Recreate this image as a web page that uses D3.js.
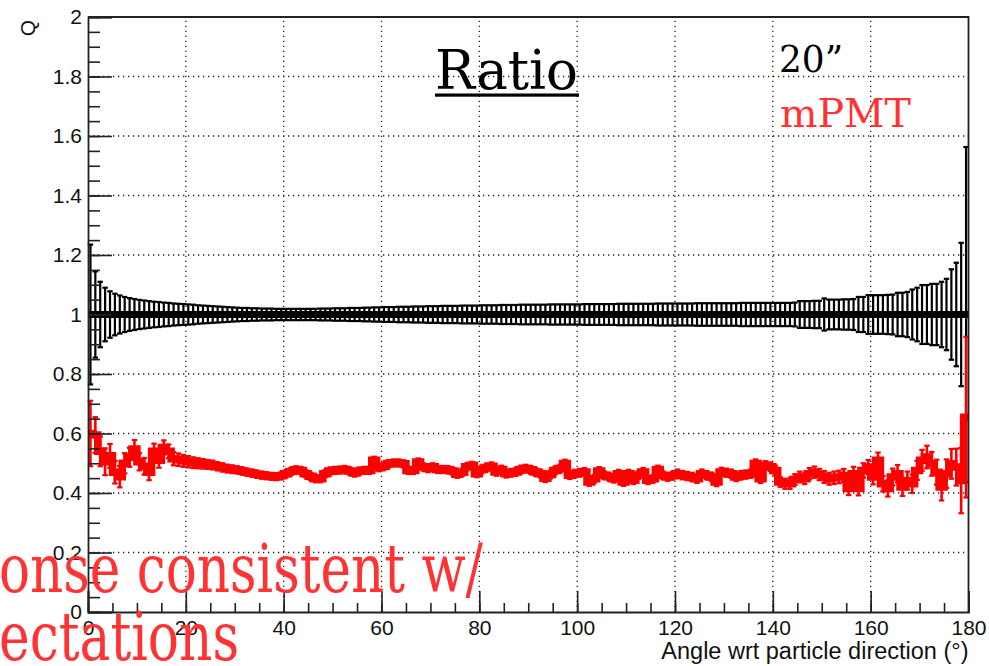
<!DOCTYPE html>
<html>
<head>
<meta charset="utf-8">
<script src="https://cdn.jsdelivr.net/npm/d3@7"></script>
<style>
  html, body { margin: 0; padding: 0; background: #fff; }
  svg { display: block; }
</style>
</head>
<body>
<svg id="chart" width="989" height="666"></svg>
<script>
// Angle bins: 1 degree wide, 0..180
const binEdges = d3.range(0, 181, 1);

// 20" PMT ratio (normalised to itself) and its statistical error per bin
const ratio20 = [
  1,1,1,1,1,1,1,1,1,1, 1,1,1,1,1,1,1,1,1,1, 1,1,1,1,1,1,1,1,1,1,
  1,1,1,1,1,1,1,1,1,1, 1,1,1,1,1,1,1,1,1,1, 1,1,1,1,1,1,1,1,1,1,
  1,1,1,1,1,1,1,1,1,1, 1,1,1,1,1,1,1,1,1,1, 1,1,1,1,1,1,1,1,1,1,
  1,1,1,1,1,1,1,1,1,1, 1,1,1,1,1,1,1,1,1,1, 1,1,1,1,1,1,1,1,1,1,
  1,1,1,1,1,1,1,1,1,1, 1,1,1,1,1,1,1,1,1,1, 1,1,1,1,1,1,1,1,1,1,
  1,1,1,1,1,1,1,1,1,1, 1,1,1,1,1,1,1,1,1,1, 1,1,1,1,1,1,1,1,1,1
];
const err20 = [
  0.235,0.145,0.110,0.090,0.078,0.070,0.064,0.059,0.055,0.052,
  0.049,0.047,0.045,0.043,0.042,0.040,0.039,0.037,0.036,0.035,
  0.034,0.033,0.031,0.030,0.029,0.028,0.027,0.026,0.025,0.024,
  0.023,0.022,0.022,0.021,0.021,0.020,0.020,0.020,0.019,0.019,
  0.019,0.019,0.019,0.019,0.019,0.019,0.019,0.020,0.020,0.020,
  0.021,0.021,0.021,0.022,0.022,0.022,0.023,0.023,0.024,0.024,
  0.025,0.025,0.025,0.026,0.026,0.026,0.027,0.027,0.027,0.028,
  0.028,0.028,0.029,0.029,0.029,0.029,0.030,0.030,0.030,0.030,
  0.031,0.031,0.031,0.031,0.032,0.032,0.032,0.032,0.033,0.033,
  0.033,0.033,0.033,0.033,0.034,0.034,0.034,0.034,0.034,0.034,
  0.034,0.035,0.035,0.035,0.035,0.035,0.035,0.035,0.036,0.036,
  0.036,0.036,0.036,0.036,0.036,0.036,0.037,0.037,0.037,0.037,
  0.037,0.037,0.037,0.037,0.038,0.038,0.038,0.038,0.038,0.038,
  0.038,0.038,0.038,0.039,0.039,0.039,0.039,0.039,0.039,0.039,
  0.039,0.039,0.039,0.039,0.040,0.045,0.045,0.045,0.046,0.046,
  0.054,0.050,0.050,0.050,0.051,0.051,0.052,0.059,0.059,0.065,
  0.065,0.065,0.065,0.066,0.067,0.073,0.073,0.076,0.084,0.090,
  0.099,0.099,0.103,0.103,0.110,0.120,0.152,0.174,0.241,0.563
];

// mPMT / 20" ratio and its error per bin
const ratioM = [
  0.600,0.595,0.540,0.505,0.525,0.470,0.455,0.500,0.520,0.548,
  0.505,0.490,0.470,0.540,0.510,0.553,0.540,0.515,0.512,0.508,
  0.505,0.502,0.500,0.498,0.496,0.494,0.490,0.486,0.482,0.480,
  0.478,0.474,0.470,0.467,0.463,0.460,0.458,0.456,0.455,0.458,
  0.465,0.472,0.478,0.476,0.465,0.456,0.448,0.448,0.465,0.474,
  0.476,0.477,0.479,0.474,0.467,0.474,0.476,0.476,0.510,0.485,
  0.490,0.499,0.501,0.501,0.498,0.476,0.476,0.504,0.488,0.482,
  0.488,0.479,0.479,0.479,0.474,0.463,0.470,0.488,0.493,0.465,
  0.479,0.486,0.490,0.471,0.479,0.465,0.468,0.471,0.479,0.482,
  0.478,0.471,0.465,0.450,0.462,0.476,0.482,0.499,0.460,0.465,
  0.468,0.471,0.437,0.448,0.474,0.460,0.455,0.448,0.465,0.437,
  0.465,0.443,0.460,0.471,0.443,0.448,0.479,0.460,0.454,0.458,
  0.465,0.460,0.457,0.454,0.448,0.465,0.460,0.454,0.437,0.471,
  0.468,0.465,0.454,0.460,0.462,0.465,0.499,0.448,0.493,0.488,
  0.476,0.437,0.431,0.431,0.445,0.454,0.448,0.465,0.470,0.462,
  0.454,0.448,0.451,0.454,0.459,0.415,0.465,0.415,0.476,0.487,
  0.454,0.510,0.431,0.415,0.454,0.465,0.420,0.442,0.431,0.476,
  0.510,0.521,0.498,0.470,0.420,0.465,0.498,0.487,0.442,0.655
];
const errM = [
  0.110,0.060,0.050,0.045,0.040,0.038,0.036,0.034,0.032,0.030,
  0.029,0.028,0.027,0.026,0.025,0.024,0.023,0.022,0.021,0.020,
  0.019,0.018,0.017,0.016,0.015,0.015,0.014,0.014,0.013,0.013,
  0.012,0.012,0.012,0.012,0.012,0.012,0.012,0.012,0.012,0.012,
  0.012,0.012,0.012,0.012,0.012,0.012,0.012,0.012,0.012,0.012,
  0.012,0.012,0.012,0.012,0.012,0.012,0.012,0.012,0.012,0.012,
  0.012,0.012,0.012,0.012,0.012,0.012,0.012,0.012,0.012,0.012,
  0.012,0.012,0.012,0.012,0.012,0.012,0.012,0.012,0.012,0.012,
  0.013,0.013,0.013,0.013,0.013,0.013,0.013,0.013,0.013,0.013,
  0.013,0.013,0.013,0.013,0.013,0.013,0.013,0.013,0.013,0.013,
  0.013,0.013,0.013,0.013,0.013,0.013,0.013,0.013,0.013,0.013,
  0.013,0.013,0.013,0.013,0.013,0.013,0.013,0.013,0.013,0.013,
  0.014,0.014,0.014,0.014,0.014,0.014,0.014,0.014,0.014,0.014,
  0.014,0.014,0.014,0.014,0.014,0.014,0.014,0.014,0.014,0.014,
  0.016,0.016,0.017,0.017,0.018,0.018,0.018,0.019,0.019,0.019,
  0.020,0.020,0.021,0.021,0.022,0.022,0.023,0.023,0.024,0.024,
  0.025,0.026,0.026,0.027,0.028,0.029,0.030,0.030,0.031,0.032,
  0.035,0.038,0.040,0.042,0.045,0.048,0.050,0.062,0.110,0.270
];

// Axis ticks and labels
const xMajor = [0, 20, 40, 60, 80, 100, 120, 140, 160, 180];
const xMajorLabels = ["0", "20", "40", "60", "80", "100", "120", "140", "160", "180"];
const xMinor = d3.range(0, 181, 5);
const yMajor = [0, 0.2, 0.4, 0.6, 0.8, 1, 1.2, 1.4, 1.6, 1.8, 2];
const yMajorLabels = ["0", "0.2", "0.4", "0.6", "0.8", "1", "1.2", "1.4", "1.6", "1.8", "2"];
const yMinor = d3.range(0, 2.0001, 0.05);

const svg = d3.select("#chart");
const L = 88, R = 968.5, T = 17, B = 612;
const x = d3.scaleLinear().domain([0, 180]).range([L, R]);
const y = d3.scaleLinear().domain([0, 2]).range([B, T]);

const sans = "'Liberation Sans', Arial, Helvetica, sans-serif";
const serif = "'DejaVu Serif', 'Liberation Serif', serif";

// Dotted grid
const grid = svg.append("g").attr("stroke", "#222").attr("stroke-width", 1.3)
  .attr("stroke-dasharray", "1.3 3.7");
grid.selectAll("line.gx").data(xMajor.slice(1, -1)).join("line")
  .attr("x1", d => x(d)).attr("x2", d => x(d)).attr("y1", B).attr("y2", T);
grid.selectAll("line.gy").data(yMajor.slice(1, -1)).join("line")
  .attr("x1", L).attr("x2", R).attr("y1", d => y(d)).attr("y2", d => y(d));

// Histogram with error bars: central band, vertical bars, caps
function drawSeries(vals, errs, color, bandW, barW) {
  const g = svg.append("g");
  const bins = vals.map((v, i) => ({ x0: binEdges[i], x1: binEdges[i + 1], v, e: errs[i] }));
  const cx = d => (x(d.x0) + x(d.x1)) / 2;
  // Bin contents as a thick stepped band
  const stepPts = bins.flatMap(d => [[d.x0, d.v], [d.x1, d.v]]);
  g.append("path")
    .attr("d", d3.line().x(p => x(p[0])).y(p => y(p[1]))(stepPts))
    .attr("fill", "none").attr("stroke", color).attr("stroke-width", bandW)
    .attr("stroke-linejoin", "miter").attr("stroke-linecap", "butt");
  g.selectAll("line.bar").data(bins).join("line")
    .attr("x1", cx).attr("x2", cx)
    .attr("y1", d => y(d.v - d.e)).attr("y2", d => y(d.v + d.e))
    .attr("stroke", color).attr("stroke-width", barW);
  ["top", "bot"].forEach(side => {
    g.selectAll("line.cap" + side).data(bins).join("line")
      .attr("x1", d => cx(d) - 2.7).attr("x2", d => cx(d) + 2.7)
      .attr("y1", d => y(side === "top" ? d.v + d.e : d.v - d.e))
      .attr("y2", d => y(side === "top" ? d.v + d.e : d.v - d.e))
      .attr("stroke", color).attr("stroke-width", 2.2);
  });
}
drawSeries(ratio20, err20, "#000", 7, 2.2);
drawSeries(ratioM, errM, "#ff0000", 7.5, 2.6);

// Axes with inward ticks
const axX = svg.append("g").attr("transform", `translate(0,${B})`)
  .call(d3.axisBottom(x).tickValues(xMajor).tickSize(-21).tickPadding(6)
    .tickFormat((d, i) => xMajorLabels[i]));
svg.append("g").attr("transform", `translate(0,${B})`)
  .call(d3.axisBottom(x).tickValues(xMinor).tickSize(-9).tickFormat(""))
  .call(g => g.select(".domain").remove());
const axY = svg.append("g").attr("transform", `translate(${L},0)`)
  .call(d3.axisLeft(y).tickValues(yMajor).tickSize(-24).tickPadding(6)
    .tickFormat((d, i) => yMajorLabels[i]));
svg.append("g").attr("transform", `translate(${L},0)`)
  .call(d3.axisLeft(y).tickValues(yMinor).tickSize(-12).tickFormat(""))
  .call(g => g.select(".domain").remove());

svg.selectAll(".tick line").attr("stroke", "#222").attr("stroke-width", 1.6);
svg.selectAll(".domain").attr("stroke", "#222").attr("stroke-width", 1.8);
axX.selectAll(".tick text").attr("font-family", sans).attr("font-size", 21)
  .attr("fill", "#111").attr("dy", "0.71em").attr("y", 8);
axY.selectAll(".tick text").attr("font-family", sans).attr("font-size", 21)
  .attr("fill", "#111").attr("x", -6);

// Frame top and right
svg.append("path")
  .attr("d", `M${L},${T}H${R}V${B}`)
  .attr("fill", "none").attr("stroke", "#222").attr("stroke-width", 1.8);

// Axis titles
svg.append("text")
  .attr("x", R).attr("y", 659).attr("text-anchor", "end")
  .attr("font-family", sans).attr("font-size", 23.5).attr("fill", "#111")
  .text("Angle wrt particle direction (°)");
svg.append("text")
  .attr("transform", "translate(35,20) rotate(-90)").attr("text-anchor", "end")
  .attr("font-family", sans).attr("font-size", 21).attr("fill", "#111")
  .text("Q");

// Title and series labels
svg.append("text")
  .attr("x", 435).attr("y", 88.5)
  .attr("font-family", serif).attr("font-size", 55).attr("fill", "#000")
  .attr("textLength", 143).attr("lengthAdjust", "spacingAndGlyphs")
  .text("Ratio");
svg.append("rect").attr("x", 435).attr("width", 144)
  .attr("y", 93.5).attr("height", 3.2).attr("fill", "#000");

svg.append("text").attr("x", 779).attr("y", 72)
  .attr("font-family", serif).attr("font-size", 38).attr("fill", "#000")
  .attr("textLength", 64).attr("lengthAdjust", "spacingAndGlyphs")
  .text("20”");
svg.append("text").attr("x", 780).attr("y", 127)
  .attr("font-family", serif).attr("font-size", 40).attr("fill", "#ff3333")
  .attr("textLength", 131).attr("lengthAdjust", "spacingAndGlyphs")
  .text("mPMT");

// Annotation
svg.append("text").attr("x", -1).attr("y", 592)
  .attr("font-family", serif).attr("font-size", 67).attr("fill", "#ff3333")
  .attr("textLength", 484).attr("lengthAdjust", "spacingAndGlyphs")
  .text("onse consistent w/");
svg.append("text").attr("x", -1).attr("y", 660)
  .attr("font-family", serif).attr("font-size", 67).attr("fill", "#ff3333")
  .attr("textLength", 240).attr("lengthAdjust", "spacingAndGlyphs")
  .text("ectations");
</script>
</body>
</html>
